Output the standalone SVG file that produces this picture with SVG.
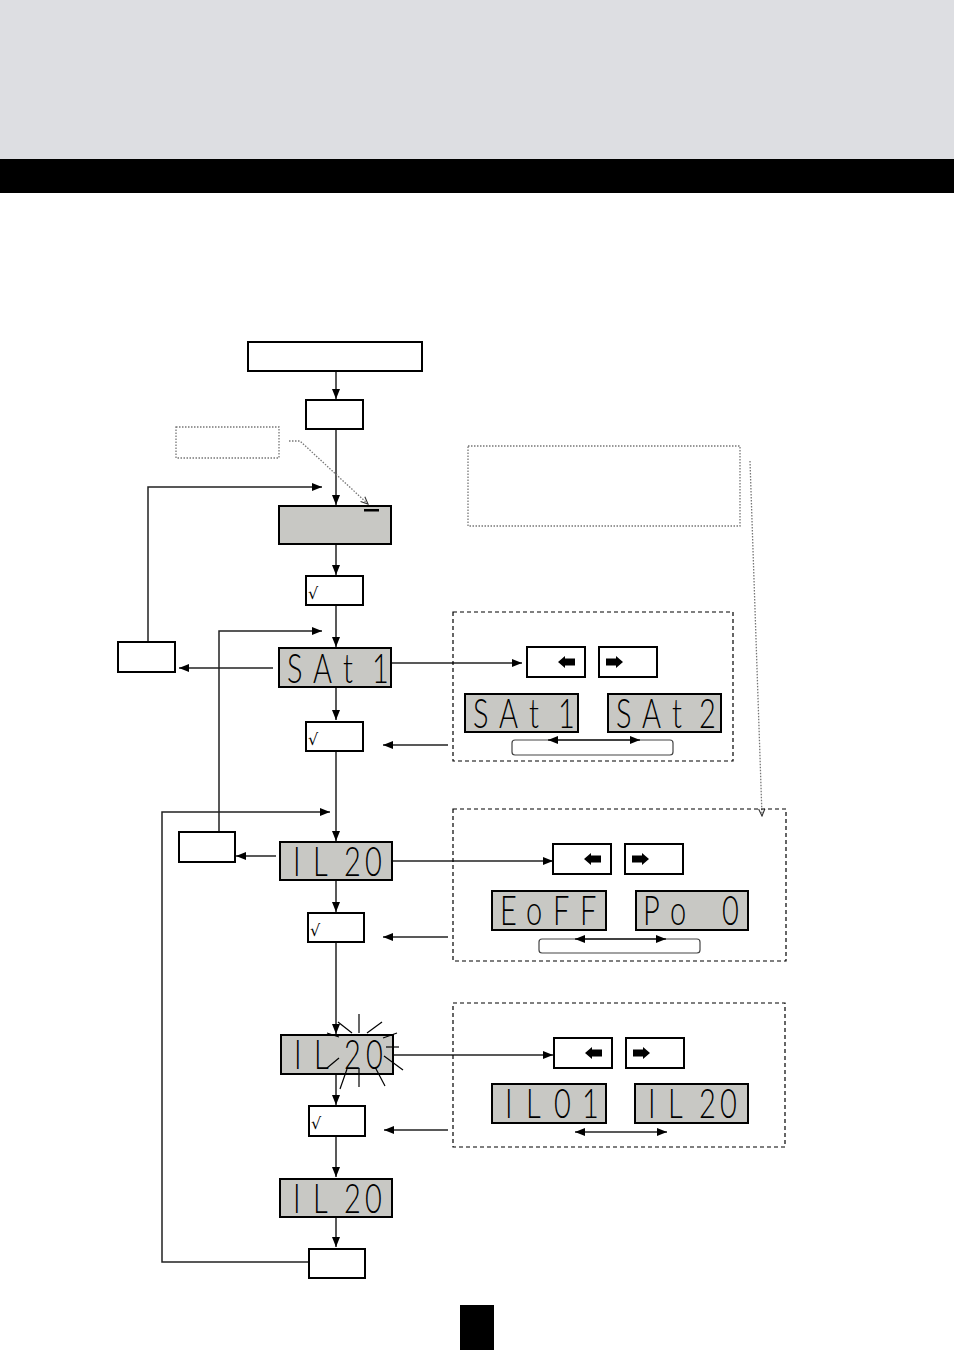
<svg xmlns="http://www.w3.org/2000/svg" width="954" height="1350" viewBox="0 0 954 1350">
<style>
.box{fill:#fff;stroke:#000;stroke-width:2}
.lcd{fill:#c8c8c4;stroke:#000;stroke-width:2}
.seg{font-family:Lato,"Liberation Sans",sans-serif;font-weight:300;font-size:29px;fill:#000}
.chk{font-family:"DejaVu Sans","Liberation Sans",sans-serif;font-size:16px;fill:#000}
.ln{fill:none;stroke:#222;stroke-width:1.5}
.dash{fill:none;stroke:#000;stroke-width:1.2;stroke-dasharray:4,3}
.dot{fill:none;stroke:#777;stroke-width:1.3;stroke-dasharray:1.5,1.5}
.ray{stroke:#000;stroke-width:1.2}
.pill{fill:#fff;stroke:#444;stroke-width:1.2}
</style>
<defs>
<marker id="ah" viewBox="0 0 10 8" refX="10" refY="4" markerWidth="10" markerHeight="8" markerUnits="userSpaceOnUse" orient="auto-start-reverse"><path d="M0,0 L10,4 L0,8 z" fill="#000"/></marker>
<marker id="oh" viewBox="0 0 10 8" refX="9" refY="4" markerWidth="9" markerHeight="8" markerUnits="userSpaceOnUse" orient="auto"><path d="M1,0.5 L9,4 L1,7.5" fill="none" stroke="#333" stroke-width="1.2"/></marker>
<path id="larr" d="M-8,0 L-1,-6 L-1,-3.5 L9,-3.5 L9,3.5 L-1,3.5 L-1,6 z" fill="#000"/>
<path id="rarr" d="M8,0 L1,-6 L1,-3.5 L-9,-3.5 L-9,3.5 L1,3.5 L1,6 z" fill="#000"/>
</defs>
<rect x="0" y="0" width="954" height="159" fill="#dddee2"/>
<rect x="0" y="159" width="954" height="34" fill="#000"/>

<g id="connectors">
<line class="ln" x1="336" y1="371" x2="336" y2="399" marker-end="url(#ah)"/>
<line class="ln" x1="336" y1="429" x2="336" y2="505" marker-end="url(#ah)"/>
<polyline class="dot" points="289,441 300,441 368,504" marker-end="url(#oh)"/>
<polyline class="ln" points="148,641 148,487 322,487" marker-end="url(#ah)"/>
<line class="ln" x1="336" y1="544" x2="336" y2="575" marker-end="url(#ah)"/>
<line class="ln" x1="336" y1="605" x2="336" y2="647" marker-end="url(#ah)"/>
<polyline class="ln" points="219,831 219,631 322,631" marker-end="url(#ah)"/>
<line class="ln" x1="273" y1="668" x2="179" y2="668" marker-end="url(#ah)"/>
<line class="ln" x1="336" y1="688" x2="336" y2="720" marker-end="url(#ah)"/>
<line class="ln" x1="391" y1="663" x2="522" y2="663" marker-end="url(#ah)"/>
<line class="ln" x1="448" y1="745" x2="383" y2="745" marker-end="url(#ah)"/>
<polyline class="dot" points="750,461 762,816" marker-end="url(#oh)"/>
<line class="ln" x1="336" y1="751" x2="336" y2="841" marker-end="url(#ah)"/>
<polyline class="ln" points="308,1262 162,1262 162,812 330,812" marker-end="url(#ah)"/>
<line class="ln" x1="276" y1="856" x2="236" y2="856" marker-end="url(#ah)"/>
<line class="ln" x1="336" y1="880" x2="336" y2="912" marker-end="url(#ah)"/>
<line class="ln" x1="392" y1="861" x2="553" y2="861" marker-end="url(#ah)"/>
<line class="ln" x1="448" y1="937" x2="383" y2="937" marker-end="url(#ah)"/>
<line class="ln" x1="336" y1="942" x2="336" y2="1034" marker-end="url(#ah)"/>
<line class="ln" x1="393" y1="1055" x2="553" y2="1055" marker-end="url(#ah)"/>
<line class="ln" x1="336" y1="1074" x2="336" y2="1105" marker-end="url(#ah)"/>
<line class="ln" x1="448" y1="1130" x2="384" y2="1130" marker-end="url(#ah)"/>
<line class="ln" x1="336" y1="1136" x2="336" y2="1177" marker-end="url(#ah)"/>
<line class="ln" x1="336" y1="1217" x2="336" y2="1247" marker-end="url(#ah)"/>
</g>

<g id="start-box"><rect class="box" x="248" y="342" width="174" height="29"/></g>
<g id="box-2"><rect class="box" x="306" y="400" width="57" height="29"/></g>
<g id="note-1"><rect class="dot" x="176" y="427" width="103" height="31"/></g>
<g id="note-2"><rect class="dot" x="468" y="446" width="272" height="80"/></g>
<g id="lcd-blank"><rect class="lcd" x="279" y="506" width="112" height="38"/><rect x="364" y="509" width="15" height="2.5" fill="#000"/></g>
<g id="ok-1"><rect class="box" x="306" y="576" width="57" height="29"/><text class="chk" x="308" y="599">√</text></g>
<g id="left-box-1"><rect class="box" x="118" y="642" width="57" height="30"/></g>
<g id="lcd-sat1"><rect class="lcd" x="279" y="648" width="112" height="39"/><text class="seg" transform="translate(0,683) scale(1,1.4)" x="287 313 343 372">SAt1</text></g>
<g id="ok-2"><rect class="box" x="306" y="722" width="57" height="29"/><text class="chk" x="308" y="745">√</text></g>

<g id="panel-1">
<rect class="dash" x="453" y="612" width="280" height="149"/>
<rect class="box" x="527" y="647" width="58" height="30"/><use href="#larr" x="566" y="662"/>
<rect class="box" x="599" y="647" width="58" height="30"/><use href="#rarr" x="615" y="662"/>
<rect class="lcd" x="465" y="694" width="113" height="38"/><text class="seg" transform="translate(0,728) scale(1,1.4)" x="473 499 529 558">SAt1</text>
<rect class="lcd" x="608" y="694" width="113" height="38"/><text class="seg" transform="translate(0,728) scale(1,1.4)" x="616 642 672 699">SAt2</text>
<rect class="pill" x="512" y="740" width="161" height="15" rx="3"/>
<line class="ln" x1="548" y1="740" x2="640" y2="740" marker-start="url(#ah)" marker-end="url(#ah)"/>
</g>

<g id="left-box-2"><rect class="box" x="179" y="832" width="56" height="30"/></g>
<g id="lcd-il20"><rect class="lcd" x="280" y="842" width="112" height="38"/><text class="seg" transform="translate(0,876) scale(1,1.4)" x="293 313 344 365">IL20</text></g>
<g id="ok-3"><rect class="box" x="308" y="913" width="56" height="29"/><text class="chk" x="310" y="936">√</text></g>

<g id="panel-2">
<rect class="dash" x="453" y="809" width="333" height="152"/>
<rect class="box" x="553" y="844" width="58" height="30"/><use href="#larr" x="592" y="859"/>
<rect class="box" x="625" y="844" width="58" height="30"/><use href="#rarr" x="641" y="859"/>
<rect class="lcd" x="492" y="891" width="114" height="39"/><text class="seg" transform="translate(0,925) scale(1,1.4)" x="500 526 553 580">EoFF</text>
<rect class="lcd" x="636" y="891" width="112" height="39"/><text class="seg" transform="translate(0,925) scale(1,1.4)" x="643 670 697 722">Po 0</text>
<rect class="pill" x="539" y="939" width="161" height="14" rx="3"/>
<line class="ln" x1="575" y1="939" x2="666" y2="939" marker-start="url(#ah)" marker-end="url(#ah)"/>
</g>

<g id="lcd-il20-flash">
<rect class="lcd" x="281" y="1035" width="112" height="39"/><text class="seg" transform="translate(0,1069) scale(1,1.4)" x="294 314 344 366">IL20</text>
<line class="ray" x1="338" y1="1022" x2="352" y2="1033"/>
<line class="ray" x1="359" y1="1014" x2="359" y2="1033"/>
<line class="ray" x1="382" y1="1022" x2="367" y2="1033"/>
<line class="ray" x1="397" y1="1033" x2="383" y2="1038"/>
<line class="ray" x1="386" y1="1047" x2="399" y2="1047"/>
<line class="ray" x1="384" y1="1056" x2="403" y2="1070"/>
<line class="ray" x1="375" y1="1067" x2="385" y2="1086"/>
<line class="ray" x1="359" y1="1068" x2="359" y2="1087"/>
<line class="ray" x1="347" y1="1069" x2="340" y2="1089"/>
<line class="ray" x1="339" y1="1058" x2="327" y2="1068"/>
<line class="ray" x1="327" y1="1033" x2="339" y2="1037"/>
</g>
<g id="ok-4"><rect class="box" x="309" y="1106" width="56" height="30"/><text class="chk" x="311" y="1129">√</text></g>

<g id="panel-3">
<rect class="dash" x="453" y="1003" width="332" height="144"/>
<rect class="box" x="554" y="1038" width="58" height="30"/><use href="#larr" x="593" y="1053"/>
<rect class="box" x="626" y="1038" width="58" height="30"/><use href="#rarr" x="642" y="1053"/>
<rect class="lcd" x="492" y="1084" width="114" height="39"/><text class="seg" transform="translate(0,1118) scale(1,1.4)" x="505 526 554 582">IL01</text>
<rect class="lcd" x="635" y="1084" width="113" height="39"/><text class="seg" transform="translate(0,1118) scale(1,1.4)" x="648 668 699 720">IL20</text>
<line class="ln" x1="575" y1="1132" x2="667" y2="1132" marker-start="url(#ah)" marker-end="url(#ah)"/>
</g>

<g id="lcd-il20-final"><rect class="lcd" x="280" y="1179" width="112" height="38"/><text class="seg" transform="translate(0,1213) scale(1,1.4)" x="293 313 344 365">IL20</text></g>
<g id="end-box"><rect class="box" x="309" y="1249" width="56" height="29"/></g>
<rect x="460" y="1305" width="34" height="45" fill="#000"/>
</svg>
